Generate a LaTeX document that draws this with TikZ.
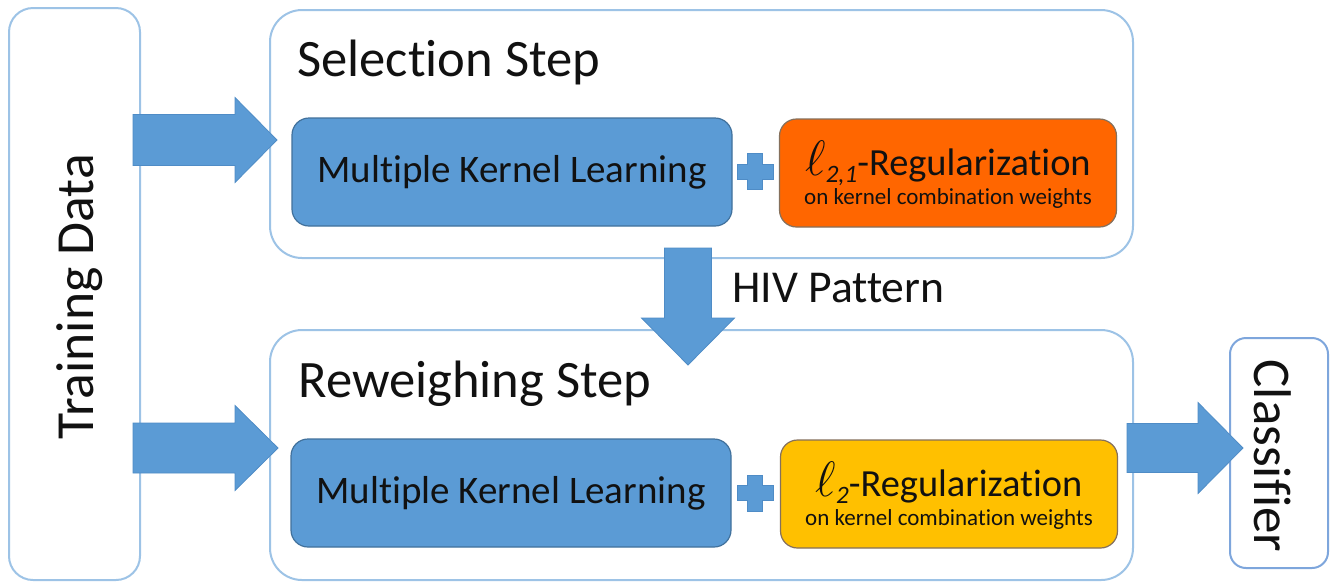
\documentclass[tikz,border=0pt]{standalone}
\usepackage{fontspec}
\setmainfont{Carlito}[Ligatures=NoCommon]
\usetikzlibrary{calc}

\definecolor{frameblue}{HTML}{9DC3E6}
\definecolor{clsframe}{HTML}{7EA6DC}
\definecolor{flowblue}{HTML}{5B9BD5}
\definecolor{flowedge}{HTML}{4F8CC6}
\definecolor{mkledge}{HTML}{41719C}
\definecolor{lonefill}{HTML}{FF6600}
\definecolor{ltwofill}{HTML}{FFC000}
\definecolor{regedge}{HTML}{85705C}
\definecolor{ink}{HTML}{111111}

% block arrow: start, tip, shaft half-width, head half-width, head length
\newcommand\fatarrow[5]{%
  \path ($(#2)!#5!(#1)$) coordinate (hb);
  \filldraw[flowarrow]
    ($(#1)!#3!90:(#2)$) -- ($(hb)!#3!90:(#2)$) -- ($(hb)!#4!90:(#2)$) --
    (#2) --
    ($(hb)!#4!-90:(#2)$) -- ($(hb)!#3!-90:(#2)$) -- ($(#1)!#3!-90:(#2)$) -- cycle;
}
% plus sign centred on a coordinate
\newcommand\plussign[1]{%
  \filldraw[flowarrow]
    ($(#1)+(-3.75pt,9pt)$) -- ($(#1)+(3.75pt,9pt)$) -- ($(#1)+(3.75pt,3.75pt)$) --
    ($(#1)+(9pt,3.75pt)$) -- ($(#1)+(9pt,-3.75pt)$) -- ($(#1)+(3.75pt,-3.75pt)$) --
    ($(#1)+(3.75pt,-9pt)$) -- ($(#1)+(-3.75pt,-9pt)$) -- ($(#1)+(-3.75pt,-3.75pt)$) --
    ($(#1)+(-9pt,-3.75pt)$) -- ($(#1)+(-9pt,3.75pt)$) -- ($(#1)+(-3.75pt,3.75pt)$) -- cycle;
}
% regularisation title: script ell with a lowered italic index
\newcommand\regtitle[1]{%
  \rule{0pt}{19pt}{\fontsize{23}{14}\selectfont$\ell$}%
  \raisebox{-3.5pt}{\fontsize{12.5}{12}\selectfont\itshape #1}-Regularization}

\begin{document}
\begin{tikzpicture}[x=0.5pt,y=-0.5pt,
  every node/.style={text=ink, inner sep=0pt},
  frame/.style={draw=frameblue, line width=1pt, fill=white},
  bigtext/.style={font=\fontsize{26.3}{30}\selectfont},
  mklbox/.style={draw=mkledge, line width=0.6pt, fill=flowblue, rounded corners=8.5pt,
    minimum width=220pt, minimum height=54pt, font=\fontsize{19.5}{22}\selectfont},
  regbox/.style={draw=regedge, line width=0.6pt, rounded corners=8.5pt,
    minimum width=168.5pt, minimum height=54pt, align=center,
    font=\fontsize{19.2}{14.6}\selectfont},
  flowarrow/.style={fill=flowblue, draw=flowedge, line width=0.4pt, line join=miter}
]
\useasboundingbox (0,0) rectangle (1339,586);

% outer frames
\node[frame, rounded corners=12pt, minimum width=65.5pt, minimum height=286pt] (train) at (74.5,294) {};
\node[font=\fontsize{26.8}{30}\selectfont, rotate=90] (trainlbl) at (80,297) {Training Data};

\node[frame, rounded corners=16pt, minimum width=431.5pt, minimum height=124pt] (sel) at (701.5,134) {};
\node[bigtext, anchor=base west] (selttl) at (297,76.5) {Selection Step};

\node[frame, rounded corners=16pt, minimum width=431.5pt, minimum height=125pt] (rew) at (701.5,455) {};
\node[bigtext, anchor=base west] (rewttl) at (298,397) {Reweighing Step};

\node[draw=clsframe, line width=1pt, fill=white, rounded corners=8pt,
      minimum width=49pt, minimum height=115pt] (cls) at (1279,453) {};
\node[font=\fontsize{26.5}{30}\selectfont, rotate=-90] (clslbl) at (1273,456) {Classifier};

% selection step contents
\node[mklbox] (mkl1) at (512,172) {Multiple Kernel Learning};
\coordinate (plus1) at (755,171.5);
\plussign{plus1}
\node[regbox, fill=lonefill] (reg1) at (948,173)
  {\regtitle{2,1}\\
   {\fontsize{11.5}{14}\selectfont on kernel combination weights}};

% reweighing step contents
\node[mklbox] (mkl2) at (511,493) {Multiple Kernel Learning};
\coordinate (plus2) at (755,493);
\plussign{plus2}
\node[regbox, fill=ltwofill] (reg2) at (949,494)
  {\regtitle{2}\\
   {\fontsize{11.5}{14}\selectfont on kernel combination weights}};

% flow arrows
\coordinate (a1s) at (133,140);  \coordinate (a1t) at (277,140);
\coordinate (a2s) at (133,448);  \coordinate (a2t) at (278,448);
\coordinate (a3s) at (688,248);  \coordinate (a3t) at (688,365);
\coordinate (a4s) at (1127,448); \coordinate (a4t) at (1243,448);
\fatarrow{a1s}{a1t}{12.75pt}{21.25pt}{21pt}
\fatarrow{a2s}{a2t}{12.5pt}{21.25pt}{21.5pt}
\fatarrow{a3s}{a3t}{11.75pt}{23.25pt}{23.5pt}
\fatarrow{a4s}{a4t}{12.25pt}{22.75pt}{22.5pt}

\node[font=\fontsize{22.8}{26}\selectfont, anchor=base west] (hiv) at (732,302) {HIV Pattern};
\end{tikzpicture}
\end{document}
